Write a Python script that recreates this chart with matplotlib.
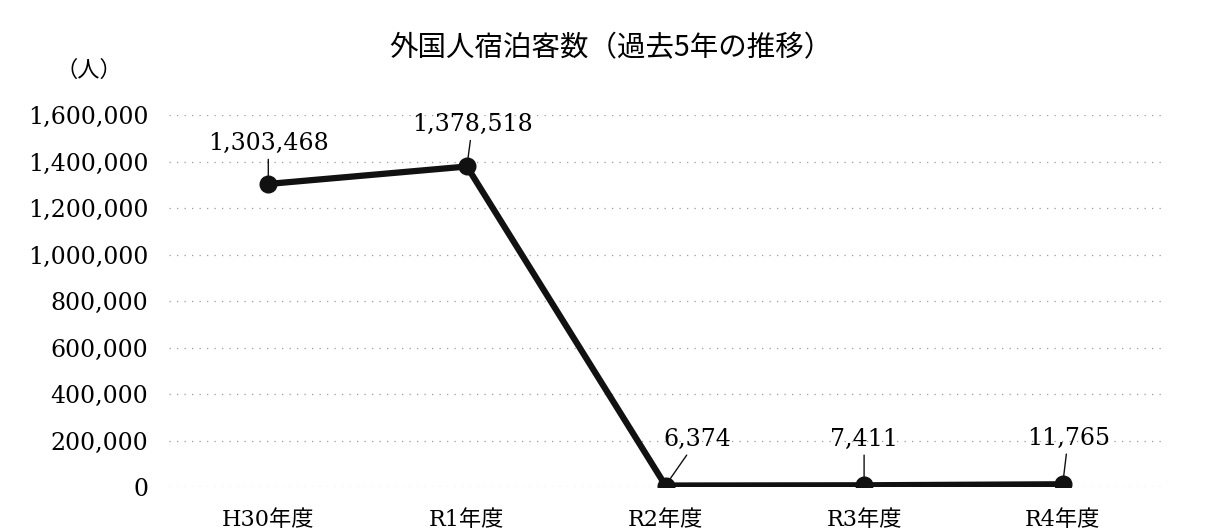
import matplotlib
matplotlib.use("Agg")
import matplotlib.pyplot as plt
from matplotlib.ticker import FuncFormatter

# data
years = ["H30年度", "R1年度", "R2年度", "R3年度", "R4年度"]
guests = [1303468, 1378518, 6374, 7411, 11765]

# label offsets (points) for the data labels
label_offsets = [(0, 29), (4, 30), (23, 33), (0, 33), (4, 33)]

plt.rcParams['font.family'] = ['DejaVu Serif', 'Noto Sans CJK JP']

fig = plt.figure(figsize=(12.08, 5.32), dpi=100)
ax = fig.add_axes([169 / 1208, 45 / 532, (1162 - 169) / 1208, (487 - 115) / 532])

x = list(range(len(years)))
ax.plot(x, guests, color='#111111', lw=4.5, marker='o', markersize=12,
        markerfacecolor='#111111', markeredgecolor='#111111', zorder=3)

for i, v in enumerate(guests):
    dx, dy = label_offsets[i]
    ax.annotate(f"{v:,}", xy=(i, v), xytext=(dx, dy), textcoords='offset points',
                ha='center', va='center', fontsize=17,
                family=['DejaVu Serif', 'Noto Sans CJK JP'],
                arrowprops=dict(arrowstyle='-', color='#111111', lw=1,
                                shrinkA=1, shrinkB=4))

ax.set_xlim(-0.5, 4.5)
ax.set_ylim(0, 1600000)
ax.set_yticks(range(0, 1600001, 200000))
ax.yaxis.set_major_formatter(FuncFormatter(lambda v, p: f"{int(v):,}"))
ax.set_xticks(x)
ax.set_xticklabels(years)
ax.tick_params(axis='y', length=0, pad=15, labelsize=17)
ax.tick_params(axis='x', length=0, pad=16, labelsize=16)

for s in ax.spines.values():
    s.set_visible(False)

ax.grid(axis='y', color='#9a9a9a', lw=0.9, linestyle=(0, (1, 5)))
ax.set_axisbelow(True)

fig.text(611 / 1208, 1 - 48 / 532, "外国人宿泊客数（過去5年の推移）", ha='center', va='center',
         fontsize=20.5, family=['Noto Sans CJK JP', 'DejaVu Sans'])
fig.text(89 / 1208, 1 - 70 / 532, "（人）", ha='center', va='center',
         fontsize=16, family=['Noto Sans CJK JP', 'DejaVu Serif'])

fig.savefig("out.png", dpi=100, facecolor='white')
